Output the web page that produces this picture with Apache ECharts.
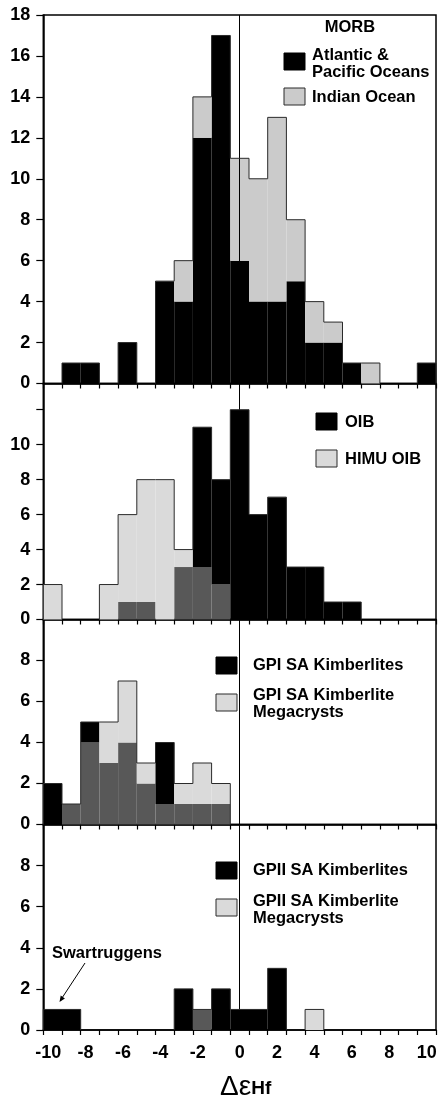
<!DOCTYPE html>
<html>
<head>
<meta charset="utf-8">
<script src="https://cdn.jsdelivr.net/npm/echarts@6/dist/echarts.min.js"></script>
<style>
  html, body { margin: 0; padding: 0; background: #fff; }
  #chart { width: 440px; height: 1103px; }
</style>
</head>
<body>
<div id="chart"></div>
<script>
// Bin centres of the ΔεHf histograms (bin width 1)
const bins = ['-10','-9','-8','-7','-6','-5','-4','-3','-2','-1','0',
              '1','2','3','4','5','6','7','8','9','10'];

// MORB (stacked: Indian Ocean on top of Atlantic & Pacific)
const morbAtlanticPacific = [0,1,1,0,2,0,5,4,12,17,6,4,4,5,2,2,1,0,0,0,1];
const morbIndian          = [0,0,0,0,0,0,0,2,2,0,5,6,9,3,2,1,0,1,0,0,0];

// OIB vs HIMU OIB (overlaid)
const oib     = [0,0,0,0,1,1,0,3,11,8,12,6,7,3,3,1,1,0,0,0,0];
const himuOib = [2,0,0,2,6,8,8,4,3,2,0,0,0,0,0,0,0,0,0,0,0];

// Group I South African kimberlites vs megacrysts (overlaid)
const gpiKimberlites = [2,1,5,3,4,2,4,1,1,1,0,0,0,0,0,0,0,0,0,0,0];
const gpiMegacrysts  = [0,1,4,5,7,3,1,2,3,2,0,0,0,0,0,0,0,0,0,0,0];

// Group II South African kimberlites vs megacrysts (overlaid)
const gpiiKimberlites = [1,1,0,0,0,0,0,2,1,2,1,1,3,0,0,0,0,0,0,0,0];
const gpiiMegacrysts  = [0,0,0,0,0,0,0,0,1,0,0,0,0,0,1,0,0,0,0,0,0];

// y-axis ranges of the four panels
const yMax = [18, 13.5, 10, 10];

const FONT = '"Liberation Sans", Arial, Helvetica, sans-serif';
const BLACK = '#000000';
const GREY_MORB = '#cbcbcb';
const GREY_LIGHT = '#dadada';
const GREY_OVERLAP = '#585858';
const OUTLINE = '#2a2a2a';
const zeroIdx = bins.indexOf('0');

// panel frames (pixels)
const panels = [
  { top: 15,    height: 368.5 },
  { top: 383.5, height: 236 },
  { top: 619.5, height: 205 },
  { top: 824.5, height: 205.5 }
];

const grids = panels.map(p => ({
  left: 43.3, right: 4, top: p.top, height: p.height,
  show: true, borderColor: '#000', borderWidth: 1.5,
  backgroundColor: 'transparent',
  containLabel: false, outerBoundsMode: 'none'
}));

const xAxes = panels.map((p, k) => ({
  type: 'category', gridIndex: k, data: bins, boundaryGap: true,
  axisLine: { show: true, onZero: false, lineStyle: { color: '#000', width: 1.5 } },
  axisTick: { show: true, interval: 0, alignWithLabel: false, inside: false, length: 5,
              lineStyle: { color: '#000', width: 1.2 } },
  axisLabel: {
    show: k === 3, interval: 1, margin: 14,
    fontFamily: FONT, fontSize: 18, fontWeight: 'bold', color: '#000',
    formatter: v => Number(v) < 0 ? v + '{s|}' : v,
    rich: { s: { width: 9 } }
  },
  splitLine: { show: false },
  name: k === 3 ? '{a|Δε}{b|Hf}' : '',
  nameLocation: 'middle', nameGap: 43,
  nameTextStyle: {
    padding: [0, 0, 0, 12],
    rich: {
      a: { fontFamily: FONT, fontSize: 28, fontWeight: 'normal', color: '#000', verticalAlign: 'bottom' },
      b: { fontFamily: FONT, fontSize: 19, fontWeight: 'bold', color: '#000', verticalAlign: 'bottom', padding: [0, 0, 3, 0] }
    }
  }
}));

const yAxes = panels.map((p, k) => ({
  type: 'value', gridIndex: k, min: 0, max: yMax[k], interval: 2,
  axisLine: { show: true, lineStyle: { color: '#000', width: 1.5 } },
  axisTick: { show: true, inside: false, length: 7, lineStyle: { color: '#000', width: 1.2 } },
  axisLabel: {
    margin: 13, fontFamily: FONT, fontSize: 18, fontWeight: 'bold', color: '#000',
    showMaxLabel: k === 0,
    formatter: v => (k > 0 && v > 10) || (k >= 2 && v >= 10) ? '' : String(v)
  },
  splitLine: { show: false }
}));

// envelope outline of a histogram, drawn with the axes' own scales
function outlineSeries(k, heights) {
  return {
    type: 'custom', xAxisIndex: k, yAxisIndex: k, z: 5, silent: true,
    data: heights.map((h, i) => [i, h]),
    renderItem(params, api) {
      const i = api.value(0);
      const h = api.value(1);
      const w = api.size([1, 0])[0];
      const base = api.coord([i, 0]);
      const top = api.coord([i, h]);
      const xl = base[0] - w / 2, xr = base[0] + w / 2;
      const st = { stroke: OUTLINE, lineWidth: 1, fill: null };
      const children = [];
      if (h > 0) children.push({ type: 'line', shape: { x1: xl, y1: top[1], x2: xr, y2: top[1] }, style: st });
      const prev = i > 0 ? heights[i - 1] : 0;
      if (prev !== h) {
        const yp = api.coord([i, prev])[1];
        children.push({ type: 'line', shape: { x1: xl, y1: yp, x2: xl, y2: top[1] }, style: st });
      }
      if (i === heights.length - 1 && h > 0) {
        children.push({ type: 'line', shape: { x1: xr, y1: base[1], x2: xr, y2: top[1] }, style: st });
      }
      return { type: 'group', children };
    }
  };
}

const zeroLine = {
  silent: true, symbol: 'none', animation: false,
  label: { show: false },
  lineStyle: { color: '#000', width: 1, type: 'solid' },
  data: [{ xAxis: zeroIdx }]
};

function barBase(k, name) {
  return {
    type: 'bar', name, xAxisIndex: k, yAxisIndex: k, stack: 'p' + k,
    barCategoryGap: '0%', barGap: '0%', animation: false, silent: true
  };
}

const series = [];

// panel 1: stacked MORB
series.push(Object.assign(barBase(0, 'Atlantic & Pacific Oceans'), {
  data: morbAtlanticPacific, itemStyle: { color: BLACK }
}));
series.push(Object.assign(barBase(0, 'Indian Ocean'), {
  data: morbIndian, itemStyle: { color: GREY_MORB }, markLine: zeroLine
}));
series.push(outlineSeries(0, morbAtlanticPacific.map((v, i) => v + morbIndian[i])));

// panels 2-4: overlaid pairs (overlap dark grey, excess black or light grey)
function overlayPanel(k, dark, light) {
  const overlap = dark.map((v, i) => Math.min(v, light[i]));
  const excess = dark.map((v, i) => ({
    value: Math.abs(v - light[i]),
    itemStyle: { color: v >= light[i] ? BLACK : GREY_LIGHT }
  }));
  series.push(Object.assign(barBase(k, 'overlap'), {
    data: overlap, itemStyle: { color: GREY_OVERLAP }
  }));
  series.push(Object.assign(barBase(k, 'excess'), {
    data: excess, markLine: zeroLine
  }));
  series.push(outlineSeries(k, dark.map((v, i) => Math.max(v, light[i]))));
}
overlayPanel(1, oib, himuOib);
overlayPanel(2, gpiKimberlites, gpiMegacrysts);
overlayPanel(3, gpiiKimberlites, gpiiMegacrysts);

// legends and annotations
const legendFont = 'bold 16.5px ' + FONT;
function box(x, y, fill) {
  return { type: 'rect', shape: { x, y, width: 21, height: 17 },
           style: { fill, stroke: fill === BLACK ? BLACK : OUTLINE, lineWidth: 1 }, z: 10 };
}
function label(x, y, text) {
  return { type: 'text', x, y, z: 10,
           style: { text, font: legendFont, fill: '#000', textAlign: 'left',
                    textVerticalAlign: 'middle', lineHeight: 17 } };
}

const graphic = [
  { type: 'text', x: 350, y: 27, z: 10,
    style: { text: 'MORB', font: legendFont, fill: '#000', textAlign: 'center', textVerticalAlign: 'middle' } },
  box(284, 53, BLACK), label(312, 64, 'Atlantic &\nPacific Oceans'),
  box(284, 88, GREY_MORB), label(312, 97, 'Indian Ocean'),

  box(316, 413, BLACK), label(345, 422, 'OIB'),
  box(316, 450, GREY_LIGHT), label(345, 459, 'HIMU OIB'),

  box(216, 657, BLACK), label(253, 665.5, 'GPI SA Kimberlites'),
  box(216, 694, GREY_LIGHT), label(253, 704, 'GPI SA Kimberlite\nMegacrysts'),

  box(216, 862, BLACK), label(253, 870.5, 'GPII SA Kimberlites'),
  box(216, 899, GREY_LIGHT), label(253, 910, 'GPII SA Kimberlite\nMegacrysts'),

  label(52, 953.5, 'Swartruggens'),
  { type: 'line', z: 10, shape: { x1: 85, y1: 963, x2: 62, y2: 998 },
    style: { stroke: '#000', lineWidth: 1 } },
  { type: 'polygon', z: 10, shape: { points: [[59.5, 1002], [64.9, 998.4], [60.7, 995.6]] },
    style: { fill: '#000' } }
];

const chart = echarts.init(document.getElementById('chart'), null, { renderer: 'canvas' });
chart.setOption({
  animation: false,
  backgroundColor: '#fff',
  grid: grids,
  xAxis: xAxes,
  yAxis: yAxes,
  series,
  graphic
});
</script>
</body>
</html>
